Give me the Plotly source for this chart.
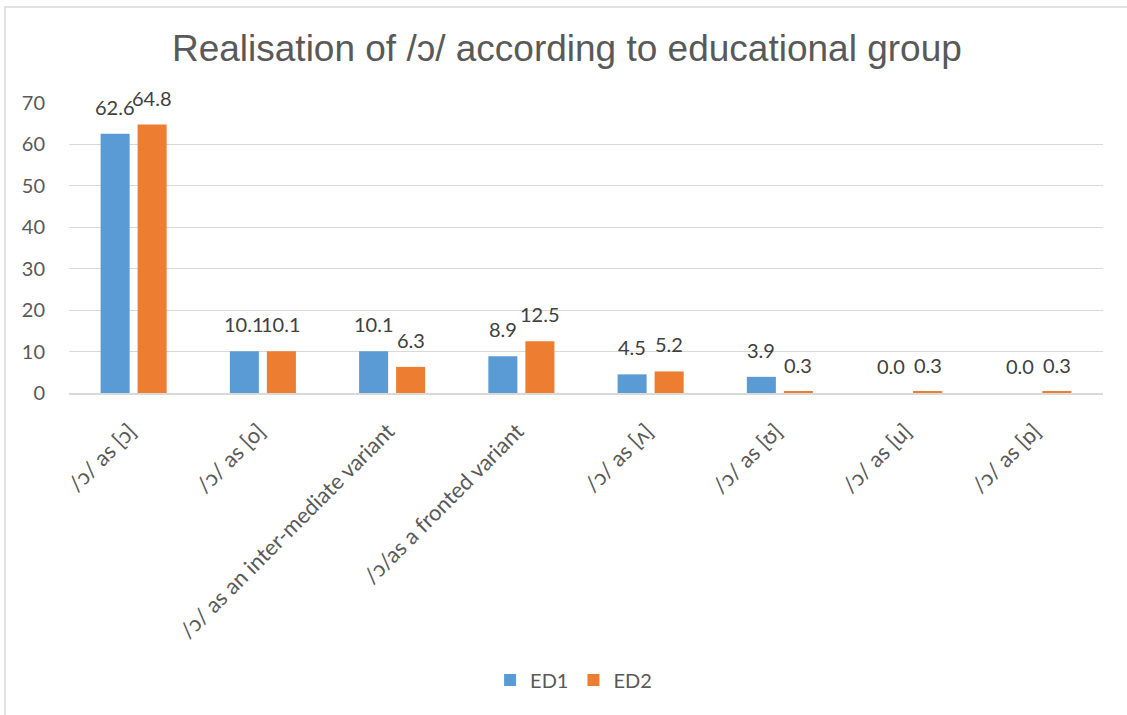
import plotly.graph_objects as go

categories = ["/ɔ/ as [ɔ]", "/ɔ/ as [o]", "/ɔ/ as an inter-mediate variant",
              "/ɔ/as a fronted variant", "/ɔ/ as [ʌ]", "/ɔ/ as [ʊ]", "/ɔ/ as [u]", "/ɔ/ as [ɒ]"]
ed1 = [62.6, 10.1, 10.1, 8.9, 4.5, 3.9, 0.0, 0.0]
ed2 = [64.8, 10.1, 6.3, 12.5, 5.2, 0.3, 0.3, 0.3]
y_ticks = [0, 10, 20, 30, 40, 50, 60, 70]

FONT = "Lato, 'Noto Sans', sans-serif"
fig = go.Figure()
fig.add_trace(go.Bar(x=categories, y=ed1, name="ED1", marker_color="#5B9BD5",
                     marker_line=dict(width=0)))
fig.add_trace(go.Bar(x=categories, y=ed2, name="ED2", marker_color="#ED7D31",
                     marker_line=dict(width=0)))

annotations = []
for series, shift in ((ed1, -18.5), (ed2, 18.5)):
    for c, v in zip(categories, series):
        annotations.append(dict(x=c, y=v, xref="x", yref="y", text=f"{v:.1f}", showarrow=False,
                                xshift=shift, yshift=13, yanchor="bottom", xanchor="center",
                                font=dict(size=20, color="#404040", family=FONT)))

fig.update_layout(
    width=1127, height=715,
    paper_bgcolor="white", plot_bgcolor="white",
    margin=dict(l=69, r=24, t=103, b=322),
    title=dict(text="Realisation of /ɔ/ according to educational group",
               x=0.503, xanchor="center", y=0.933, yanchor="middle",
               font=dict(family="'Liberation Sans', Arial, sans-serif", size=37, color="#595959")),
    barmode="group", bargap=0.427, bargroupgap=0.216,
    font=dict(family=FONT, color="#595959", size=20),
    legend=dict(orientation="h", x=0.488, xanchor="center", y=-0.99, yanchor="middle",
                font=dict(size=20, color="#595959", family=FONT), itemwidth=30,
                traceorder="normal"),
    annotations=annotations,
    shapes=[dict(type="rect", xref="paper", yref="paper", x0=-0.0619, x1=1.2, y0=-1.6, y1=1.331,
                 line=dict(color="#D9D9D9", width=1.5))],
)
fig.update_yaxes(range=[0, 70], tickvals=y_ticks, showgrid=True, gridcolor="#D9D9D9", gridwidth=1.3,
                 zeroline=False, showline=False, ticks="", ticklabelstandoff=23,
                 tickfont=dict(size=20, color="#595959", family=FONT))
fig.update_xaxes(showline=True, linecolor="#D9D9D9", linewidth=1.5, tickangle=-45, ticks="",
                 ticklabelstandoff=15, ticklabelshift=-4,
                 tickfont=dict(size=22, color="#595959", family=FONT))
fig.write_html("out.html")
